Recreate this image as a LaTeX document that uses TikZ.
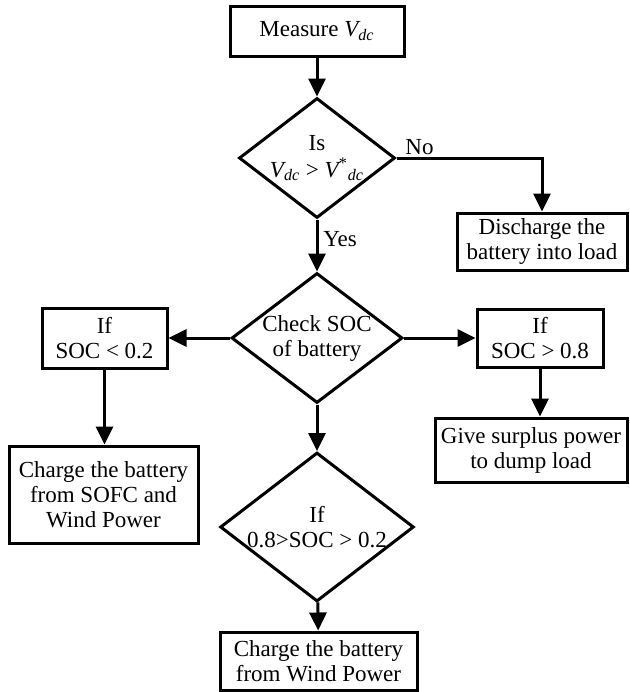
\documentclass[tikz,border=0pt]{standalone}
\usepackage{fontspec}
\setmainfont{Liberation Serif}
\usetikzlibrary{shapes.geometric,arrows.meta}
\begin{document}
\begin{tikzpicture}[x=0.5pt,y=-0.5pt,
  txt/.style={font=\fontsize{11.5}{12.5}\selectfont},
  box/.style={txt,draw,line width=1.5pt,inner sep=0pt,align=center},
  dia/.style={txt,draw,diamond,aspect=1.3,line width=1.5pt,inner sep=0pt,align=center},
  arr/.style={line width=1.5pt,-{Triangle[length=9pt,width=8.5pt]}},
  lbl/.style={txt,inner sep=0pt}]
\useasboundingbox (0,0) rectangle (629,692);
\newcommand{\Vdc}{{\itshape V}\textsubscript{\itshape dc}}
% boxes
\node[box,minimum width=87pt,minimum height=25pt] (meas) at (317,31) {Measure \Vdc};
\node[dia,minimum width=78pt,minimum height=60pt] (d1) at (317,158)
  {Is\\[1pt]\Vdc{} > {\itshape V}\textsuperscript{*}\textsubscript{\itshape dc}};
\node[box,minimum width=85pt,minimum height=28.5pt] (dis) at (542,241.5) {Discharge the\\battery into load};
\node[dia,minimum width=85.5pt,minimum height=65pt] (d2) at (317,338) {Check SOC\\of battery};
\node[box,minimum width=62.5pt,minimum height=30pt] (lo) at (104.5,338) {If\\SOC < 0.2};
\node[box,minimum width=63pt,minimum height=29pt] (hi) at (540,338) {If\\SOC > 0.8};
\node[box,minimum width=94.5pt,minimum height=48.5pt] (chs) at (103.5,494.5) {Charge the battery\\from SOFC and\\Wind Power};
\node[box,minimum width=96pt,minimum height=32pt] (give) at (531,450) {Give surplus power\\to dump load};
\node[dia,minimum width=88pt,minimum height=59pt] (d3) at (317,527) {If\\0.8>SOC > 0.2};
\node[box,minimum width=98.5pt,minimum height=29pt] (chw) at (318.5,661) {Charge the battery\\from Wind Power};
% connectors
\draw[arr] (meas) -- (d1);
\draw[arr] (d1.east) -| (dis.north);
\draw[arr] (d1) -- (d2);
\draw[arr] (d2.west) -- (lo.east);
\draw[arr] (d2.east) -- (hi.west);
\draw[arr] (lo) -- (lo |- chs.north);
\draw[arr] (hi) -- (hi |- give.north);
\draw[arr] (d2) -- (d3);
\draw[arr] (d3) -- (chw);
% labels
\node[lbl,anchor=west] (no) at (405,147) {No};
\node[lbl,anchor=west] (yes) at (323,239) {Yes};
\end{tikzpicture}
\end{document}
